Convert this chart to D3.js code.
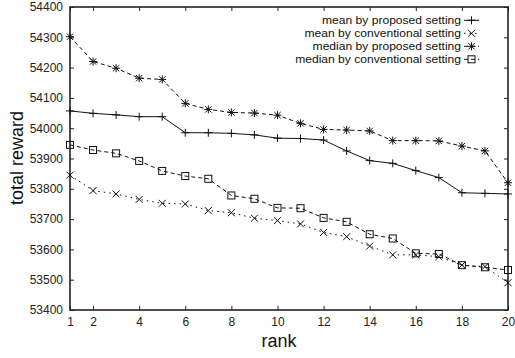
<!DOCTYPE html>
<html>
<head>
<meta charset="utf-8">
<script src="https://cdn.jsdelivr.net/npm/d3@7"></script>
<style>
  html, body { margin: 0; padding: 0; background: #fff; }
  svg { display: block; font-family: "Liberation Sans", Arial, Helvetica, sans-serif; }
</style>
</head>
<body>
<svg id="chart" width="515" height="358"></svg>
<script>
// Total reward by rank for four aggregation/setting combinations
const ranks = d3.range(1, 21);
const meanProposed = [54057, 54049, 54044, 54038, 54038, 53985, 53985, 53983, 53978, 53967,
                      53966, 53961, 53925, 53893, 53884, 53860, 53837, 53787, 53785, 53783];
const meanConventional = [53845, 53794, 53783, 53765, 53752, 53750, 53728, 53721, 53703, 53695,
                          53684, 53656, 53642, 53611, 53582, 53582, 53576, 53548, 53543, 53490];
const medianProposed = [54302, 54220, 54198, 54165, 54161, 54082, 54062, 54052, 54050, 54043,
                        54016, 53996, 53994, 53991, 53959, 53959, 53958, 53941, 53925, 53820];
const medianConventional = [53945, 53928, 53917, 53892, 53859, 53842, 53833, 53778, 53767, 53737,
                            53736, 53704, 53691, 53650, 53636, 53587, 53585, 53548, 53541, 53532];
const seriesNames = ["mean by proposed setting", "mean by conventional setting",
                     "median by proposed setting", "median by conventional setting"];
const xTicks = [1, 2, 4, 6, 8, 10, 12, 14, 16, 18, 20];
const yTicks = d3.range(53400, 54401, 100);

const series = [
  { name: seriesNames[0], values: meanProposed, dash: null, marker: "plus" },
  { name: seriesNames[1], values: meanConventional, dash: "1.5,4", marker: "cross" },
  { name: seriesNames[2], values: medianProposed, dash: "4,3", marker: "star" },
  { name: seriesNames[3], values: medianConventional, dash: "4,3", marker: "square" }
];

const svg = d3.select("#chart");
const plotLeft = 70, plotRight = 508, plotTop = 7, plotBottom = 310;

const x = d3.scaleLinear().domain([1, 20]).range([plotLeft, plotRight]);
const y = d3.scaleLinear().domain([53400, 54400]).range([plotBottom, plotTop]);

// Axes with inward ticks on all four sides
const tickLen = 4;
const axB = d3.axisBottom(x).tickValues(xTicks).tickSizeInner(-tickLen).tickSizeOuter(0).tickPadding(7).tickFormat(d3.format("d"));
const axT = d3.axisTop(x).tickValues(xTicks).tickSizeInner(-tickLen).tickSizeOuter(0).tickFormat("");
const axL = d3.axisLeft(y).tickValues(yTicks).tickSizeInner(-tickLen).tickSizeOuter(0).tickPadding(7).tickFormat(d3.format("d"));
const axR = d3.axisRight(y).tickValues(yTicks).tickSizeInner(-tickLen).tickSizeOuter(0).tickFormat("");

function styleAxis(g) {
  g.selectAll(".domain").remove();
  g.selectAll(".tick line").attr("stroke", "#222").attr("stroke-width", 1);
  g.selectAll(".tick text").attr("fill", "#222").attr("font-size", 12)
    .attr("font-family", "'Liberation Sans', Arial, sans-serif");
}
svg.append("g").attr("transform", `translate(0,${plotBottom})`).call(axB).call(styleAxis);
svg.append("g").attr("transform", `translate(0,${plotTop})`).call(axT).call(styleAxis);
svg.append("g").attr("transform", `translate(${plotLeft},0)`).call(axL).call(styleAxis);
svg.append("g").attr("transform", `translate(${plotRight},0)`).call(axR).call(styleAxis);

// Frame
svg.append("rect")
  .attr("x", plotLeft).attr("y", plotTop)
  .attr("width", plotRight - plotLeft).attr("height", plotBottom - plotTop)
  .attr("fill", "none").attr("stroke", "#222").attr("stroke-width", 1.6);

// Axis titles
svg.append("text")
  .attr("x", 279).attr("y", 347)
  .attr("text-anchor", "middle").attr("font-size", 18).attr("fill", "#111")
  .text("rank");
svg.append("text")
  .attr("transform", "translate(23,158) rotate(-90)")
  .attr("text-anchor", "middle").attr("font-size", 18).attr("fill", "#111")
  .text("total reward");

// Marker drawing
function drawMarker(g, type, cx, cy) {
  const s = 4;
  const seg = (x1, y1, x2, y2) => {
    g.append("line").attr("x1", x1).attr("y1", y1).attr("x2", x2).attr("y2", y2)
      .attr("stroke", "#111").attr("stroke-width", 1);
  };
  if (type === "plus" || type === "star") {
    seg(cx - s, cy, cx + s, cy);
    seg(cx, cy - s, cx, cy + s);
  }
  if (type === "cross" || type === "star") {
    const c = type === "star" ? 3.2 : 3.5;
    seg(cx - c, cy - c, cx + c, cy + c);
    seg(cx - c, cy + c, cx + c, cy - c);
  }
  if (type === "square") {
    g.append("rect").attr("x", cx - 3.5).attr("y", cy - 3.5).attr("width", 7).attr("height", 7)
      .attr("fill", "none").attr("stroke", "#111").attr("stroke-width", 1);
  }
}

const line = d3.line().x((d, i) => x(ranks[i])).y(d => y(d));

series.forEach(s => {
  svg.append("path")
    .attr("d", line(s.values))
    .attr("fill", "none").attr("stroke", "#111").attr("stroke-width", 1)
    .attr("stroke-dasharray", s.dash);
  const g = svg.append("g");
  s.values.forEach((v, i) => drawMarker(g, s.marker, x(ranks[i]), y(v)));
});

// Legend: right-aligned labels (slightly widened face) with a sample line and marker per row
const legendY0 = 20.3, legendStep = 13;
const legend = svg.append("g");
series.forEach((s, i) => {
  const ly = legendY0 + i * legendStep;
  legend.append("text")
    .attr("transform", `translate(461,${ly}) scale(1.08,1)`)
    .attr("dy", "0.35em")
    .attr("text-anchor", "end").attr("font-size", 11.2).attr("fill", "#111")
    .text(s.name);
  legend.append("line")
    .attr("x1", 464).attr("x2", 479).attr("y1", ly).attr("y2", ly)
    .attr("stroke", "#111").attr("stroke-width", 1).attr("stroke-dasharray", s.dash);
  drawMarker(legend, s.marker, 471.5, ly);
});
</script>
</body>
</html>
